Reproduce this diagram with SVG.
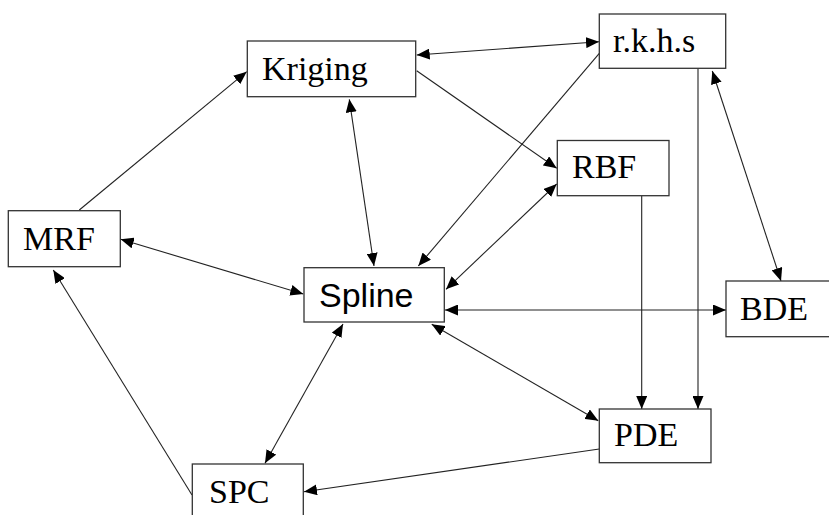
<svg xmlns="http://www.w3.org/2000/svg" width="829" height="515" viewBox="0 0 829 515">
<style>
.box{fill:#fff;stroke:#333;stroke-width:1.3}
.t{font-family:"Liberation Serif","Times New Roman",serif;font-size:34px;fill:#000}
.s{font-family:"Liberation Sans",Arial,sans-serif;font-size:34px;fill:#000}
.c{stroke:#222;stroke-width:1.1;fill:none}
</style>
<defs>
<marker id="ah" markerUnits="userSpaceOnUse" markerWidth="13" markerHeight="11" viewBox="0 0 13 11" refX="13" refY="5.5" orient="auto-start-reverse">
<path d="M0,0 L13,5.5 L0,11 z" fill="#000"/>
</marker>
</defs>
<rect width="829" height="515" fill="#fff"/>
<g id="connectors">
<line class="c" x1="416.7" y1="55" x2="599" y2="41.7" marker-start="url(#ah)" marker-end="url(#ah)"/>
<line class="c" x1="416.7" y1="70.7" x2="556.7" y2="168.3" marker-end="url(#ah)"/>
<line class="c" x1="599.3" y1="53.3" x2="418.3" y2="266" marker-end="url(#ah)"/>
<line class="c" x1="556.7" y1="184" x2="446" y2="289.3" marker-start="url(#ah)" marker-end="url(#ah)"/>
<line class="c" x1="349.3" y1="99.3" x2="374" y2="266" marker-start="url(#ah)" marker-end="url(#ah)"/>
<line class="c" x1="120.7" y1="239.3" x2="303.3" y2="294" marker-start="url(#ah)" marker-end="url(#ah)"/>
<line class="c" x1="79.3" y1="210" x2="246.7" y2="71.7" marker-end="url(#ah)"/>
<line class="c" x1="192" y1="495" x2="53.3" y2="270" marker-end="url(#ah)"/>
<line class="c" x1="445" y1="310" x2="726" y2="310" marker-start="url(#ah)" marker-end="url(#ah)"/>
<line class="c" x1="641.7" y1="196" x2="641.7" y2="409" marker-end="url(#ah)"/>
<line class="c" x1="698" y1="68.5" x2="698" y2="409" marker-end="url(#ah)"/>
<line class="c" x1="712.3" y1="71" x2="781" y2="281" marker-start="url(#ah)" marker-end="url(#ah)"/>
<line class="c" x1="431.7" y1="324.3" x2="598.3" y2="420.7" marker-start="url(#ah)" marker-end="url(#ah)"/>
<line class="c" x1="343" y1="324" x2="265" y2="463.3" marker-start="url(#ah)" marker-end="url(#ah)"/>
<line class="c" x1="599.3" y1="449" x2="304" y2="491.7" marker-end="url(#ah)"/>
</g>
<g id="kriging"><rect class="box" x="247.3" y="41" width="168.4" height="55.7"/><text class="t" x="262" y="80">Kriging</text></g>
<g id="rkhs"><rect class="box" x="599.3" y="14" width="126.4" height="54.3"/><text class="t" x="613" y="52">r.k.h.s</text></g>
<g id="rbf"><rect class="box" x="557.3" y="140.5" width="111.7" height="55.2"/><text class="t" x="572" y="178">RBF</text></g>
<g id="mrf"><rect class="box" x="8.3" y="210.7" width="112" height="56"/><text class="t" x="23" y="250">MRF</text></g>
<g id="spline"><rect class="box" x="304" y="267.7" width="140.3" height="54.3"/><text class="s" x="319" y="307">Spline</text></g>
<g id="bde"><rect class="box" x="726" y="281" width="120" height="55.7"/><text class="t" x="740" y="320">BDE</text></g>
<g id="pde"><rect class="box" x="599.3" y="409" width="111.7" height="53.7"/><text class="t" x="614" y="446">PDE</text></g>
<g id="spc"><rect class="box" x="192.3" y="464" width="111" height="60"/><text class="t" x="209" y="503">SPC</text></g>
</svg>
